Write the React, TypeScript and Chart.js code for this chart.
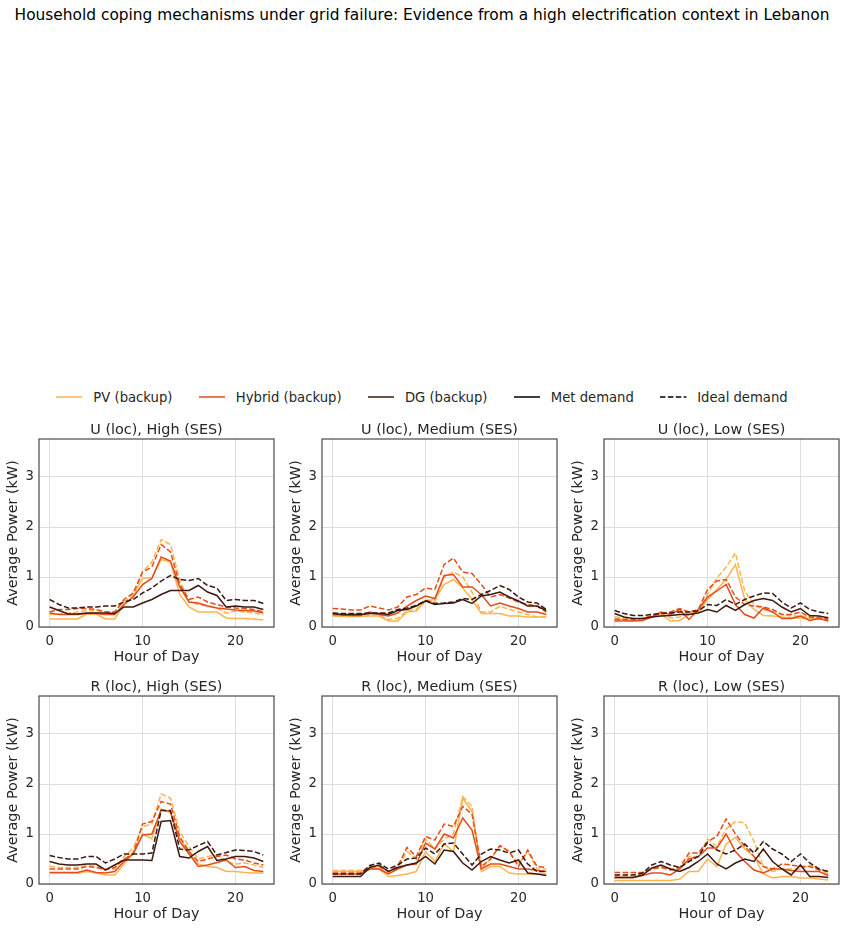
import React, { useEffect, useRef } from "react";
import { Chart, registerables } from "chart.js";

Chart.register(...registerables);

// Hours of the day (x values)
const hours = [0, 1, 2, 3, 4, 5, 6, 7, 8, 9, 10, 11, 12, 13, 14, 15, 16, 17, 18, 19, 20, 21, 22, 23];
const xTickValues = [0, 10, 20];
const yTickValues = [0, 1, 2, 3];

// U (loc), High (SES)
const uHighPvMet = [0.16, 0.16, 0.16, 0.16, 0.26, 0.26, 0.16, 0.16, 0.45, 0.62, 0.98, 0.98, 1.35, 1.3, 0.65, 0.4, 0.3, 0.3, 0.3, 0.18, 0.17, 0.17, 0.16, 0.14];
const uHighPvIdeal = [0.25, 0.26, 0.28, 0.3, 0.33, 0.33, 0.3, 0.3, 0.5, 0.65, 1.1, 1.3, 1.75, 1.65, 0.95, 0.5, 0.45, 0.42, 0.38, 0.28, 0.32, 0.3, 0.28, 0.24];
const uHighHybMet = [0.28, 0.25, 0.25, 0.25, 0.27, 0.27, 0.25, 0.25, 0.45, 0.6, 0.85, 0.97, 1.4, 1.32, 0.8, 0.5, 0.48, 0.42, 0.38, 0.36, 0.34, 0.33, 0.32, 0.28];
const uHighHybIdeal = [0.3, 0.35, 0.35, 0.37, 0.37, 0.35, 0.3, 0.3, 0.55, 0.68, 1.1, 1.2, 1.65, 1.5, 0.85, 0.55, 0.6, 0.5, 0.45, 0.4, 0.38, 0.37, 0.35, 0.3];
const uHighDgMet = [0.4, 0.33, 0.26, 0.26, 0.28, 0.28, 0.28, 0.27, 0.4, 0.4, 0.48, 0.55, 0.65, 0.73, 0.73, 0.73, 0.83, 0.7, 0.63, 0.4, 0.42, 0.4, 0.4, 0.35];
const uHighDgIdeal = [0.55, 0.45, 0.38, 0.38, 0.4, 0.4, 0.42, 0.42, 0.5, 0.55, 0.68, 0.78, 0.92, 1.03, 0.95, 0.93, 0.97, 0.83, 0.78, 0.53, 0.55, 0.53, 0.53, 0.47];

// U (loc), Medium (SES)
const uMedPvMet = [0.22, 0.21, 0.21, 0.21, 0.22, 0.22, 0.12, 0.12, 0.3, 0.32, 0.52, 0.55, 0.85, 0.95, 0.78, 0.55, 0.27, 0.27, 0.27, 0.22, 0.22, 0.2, 0.2, 0.2];
const uMedPvIdeal = [0.23, 0.22, 0.22, 0.22, 0.24, 0.24, 0.15, 0.17, 0.33, 0.35, 0.55, 0.5, 1.0, 1.1, 1.0, 0.7, 0.3, 0.3, 0.42, 0.35, 0.3, 0.25, 0.2, 0.2];
const uMedHybMet = [0.25, 0.24, 0.23, 0.23, 0.3, 0.25, 0.22, 0.28, 0.42, 0.53, 0.62, 0.57, 1.03, 1.05, 0.8, 0.8, 0.65, 0.42, 0.48, 0.42, 0.37, 0.3, 0.3, 0.25];
const uMedHybIdeal = [0.37, 0.36, 0.34, 0.34, 0.42, 0.38, 0.34, 0.4, 0.6, 0.65, 0.78, 0.75, 1.25, 1.38, 1.1, 1.07, 0.85, 0.6, 0.65, 0.58, 0.5, 0.45, 0.42, 0.3];
const uMedDgMet = [0.27, 0.25, 0.25, 0.25, 0.27, 0.27, 0.25, 0.33, 0.35, 0.42, 0.52, 0.45, 0.47, 0.48, 0.55, 0.47, 0.62, 0.65, 0.7, 0.6, 0.52, 0.42, 0.42, 0.33];
const uMedDgIdeal = [0.28, 0.27, 0.27, 0.27, 0.28, 0.28, 0.28, 0.35, 0.38, 0.43, 0.53, 0.47, 0.48, 0.5, 0.57, 0.55, 0.65, 0.73, 0.83, 0.75, 0.6, 0.5, 0.48, 0.35];

// U (loc), Low (SES)
const uLowPvMet = [0.17, 0.15, 0.13, 0.14, 0.2, 0.25, 0.12, 0.13, 0.25, 0.3, 0.55, 0.75, 0.95, 1.25, 0.55, 0.35, 0.23, 0.22, 0.2, 0.18, 0.18, 0.17, 0.16, 0.15];
const uLowPvIdeal = [0.2, 0.18, 0.16, 0.17, 0.23, 0.28, 0.18, 0.2, 0.28, 0.32, 0.65, 0.98, 1.2, 1.48, 0.72, 0.45, 0.35, 0.3, 0.25, 0.22, 0.22, 0.2, 0.2, 0.2];
const uLowHybMet = [0.12, 0.12, 0.12, 0.13, 0.2, 0.3, 0.25, 0.35, 0.15, 0.35, 0.6, 0.72, 0.85, 0.45, 0.25, 0.18, 0.38, 0.3, 0.17, 0.17, 0.22, 0.13, 0.17, 0.12];
const uLowHybIdeal = [0.15, 0.15, 0.15, 0.17, 0.22, 0.28, 0.3, 0.37, 0.3, 0.35, 0.75, 0.92, 0.95, 0.6, 0.45, 0.42, 0.4, 0.35, 0.25, 0.25, 0.3, 0.2, 0.18, 0.15];
const uLowDgMet = [0.27, 0.2, 0.17, 0.17, 0.2, 0.22, 0.23, 0.25, 0.25, 0.28, 0.35, 0.3, 0.43, 0.33, 0.45, 0.53, 0.57, 0.53, 0.4, 0.3, 0.37, 0.23, 0.22, 0.18];
const uLowDgIdeal = [0.33, 0.27, 0.23, 0.23, 0.25, 0.27, 0.28, 0.3, 0.3, 0.32, 0.45, 0.43, 0.55, 0.45, 0.55, 0.62, 0.68, 0.67, 0.5, 0.38, 0.48, 0.35, 0.3, 0.27];

// R (loc), High (SES)
const rHighPvMet = [0.22, 0.22, 0.22, 0.22, 0.25, 0.22, 0.18, 0.18, 0.4, 0.65, 1.0, 0.9, 1.5, 1.43, 0.9, 0.62, 0.4, 0.35, 0.33, 0.25, 0.25, 0.23, 0.22, 0.22];
const rHighPvIdeal = [0.35, 0.33, 0.33, 0.33, 0.37, 0.35, 0.3, 0.3, 0.55, 0.72, 1.15, 1.2, 1.8, 1.72, 1.05, 0.75, 0.5, 0.55, 0.58, 0.45, 0.4, 0.42, 0.38, 0.33];
const rHighHybMet = [0.23, 0.23, 0.23, 0.23, 0.28, 0.23, 0.22, 0.25, 0.45, 0.6, 0.98, 1.0, 1.48, 1.45, 0.85, 0.6, 0.35, 0.38, 0.43, 0.48, 0.33, 0.35, 0.27, 0.25];
const rHighHybIdeal = [0.3, 0.3, 0.3, 0.3, 0.35, 0.33, 0.28, 0.33, 0.5, 0.6, 1.2, 1.25, 1.65, 1.6, 0.95, 0.65, 0.45, 0.5, 0.55, 0.58, 0.5, 0.48, 0.42, 0.38];
const rHighDgMet = [0.45, 0.4, 0.38, 0.38, 0.4, 0.4, 0.28, 0.38, 0.48, 0.48, 0.48, 0.47, 1.25, 1.27, 0.55, 0.52, 0.65, 0.75, 0.47, 0.5, 0.55, 0.55, 0.52, 0.45];
const rHighDgIdeal = [0.57, 0.53, 0.5, 0.5, 0.55, 0.55, 0.42, 0.5, 0.6, 0.6, 0.6, 0.62, 1.47, 1.47, 0.7, 0.68, 0.77, 0.85, 0.58, 0.63, 0.68, 0.67, 0.65, 0.58];

// R (loc), Medium (SES)
const rMedPvMet = [0.25, 0.25, 0.25, 0.25, 0.3, 0.3, 0.15, 0.17, 0.2, 0.25, 0.65, 0.45, 0.8, 0.65, 1.72, 1.45, 0.25, 0.35, 0.35, 0.22, 0.2, 0.2, 0.2, 0.2];
const rMedPvIdeal = [0.27, 0.27, 0.27, 0.27, 0.32, 0.33, 0.22, 0.3, 0.65, 0.5, 0.9, 0.7, 0.9, 1.0, 1.75, 1.55, 0.3, 0.5, 0.75, 0.65, 0.4, 0.65, 0.3, 0.3];
const rMedHybMet = [0.2, 0.2, 0.2, 0.2, 0.3, 0.3, 0.2, 0.3, 0.38, 0.4, 0.82, 0.7, 1.0, 0.92, 1.32, 1.08, 0.3, 0.4, 0.4, 0.35, 0.3, 0.3, 0.27, 0.25];
const rMedHybIdeal = [0.22, 0.22, 0.22, 0.22, 0.35, 0.35, 0.25, 0.35, 0.73, 0.55, 0.95, 0.88, 1.2, 1.15, 1.55, 1.4, 0.35, 0.5, 0.77, 0.65, 0.35, 0.68, 0.35, 0.33];
const rMedDgMet = [0.15, 0.15, 0.15, 0.15, 0.33, 0.38, 0.25, 0.33, 0.38, 0.42, 0.55, 0.4, 0.68, 0.65, 0.42, 0.28, 0.45, 0.55, 0.48, 0.42, 0.48, 0.22, 0.2, 0.17];
const rMedDgIdeal = [0.2, 0.2, 0.2, 0.2, 0.37, 0.42, 0.3, 0.38, 0.5, 0.52, 0.72, 0.6, 0.8, 0.82, 0.6, 0.38, 0.6, 0.7, 0.68, 0.62, 0.68, 0.4, 0.25, 0.25];

// R (loc), Low (SES)
const rLowPvMet = [0.07, 0.07, 0.07, 0.07, 0.07, 0.07, 0.07, 0.1, 0.25, 0.25, 0.5, 0.35, 0.8, 0.93, 0.7, 0.55, 0.2, 0.12, 0.15, 0.15, 0.12, 0.12, 0.1, 0.08];
const rLowPvIdeal = [0.17, 0.17, 0.17, 0.2, 0.3, 0.35, 0.3, 0.3, 0.55, 0.55, 0.9, 0.75, 1.1, 1.25, 1.22, 0.85, 0.35, 0.25, 0.3, 0.3, 0.3, 0.38, 0.3, 0.2];
const rLowHybMet = [0.13, 0.13, 0.13, 0.17, 0.22, 0.22, 0.18, 0.3, 0.5, 0.55, 0.72, 0.72, 1.0, 0.65, 0.45, 0.28, 0.22, 0.3, 0.3, 0.27, 0.25, 0.25, 0.25, 0.17];
const rLowHybIdeal = [0.23, 0.23, 0.23, 0.23, 0.3, 0.33, 0.28, 0.33, 0.62, 0.62, 0.85, 0.95, 1.3, 1.0, 0.75, 0.55, 0.35, 0.3, 0.4, 0.38, 0.35, 0.35, 0.28, 0.25];
const rLowDgMet = [0.13, 0.13, 0.13, 0.18, 0.32, 0.38, 0.3, 0.25, 0.33, 0.45, 0.6, 0.4, 0.3, 0.42, 0.5, 0.45, 0.7, 0.45, 0.3, 0.18, 0.38, 0.15, 0.15, 0.13];
const rLowDgIdeal = [0.18, 0.18, 0.18, 0.22, 0.38, 0.45, 0.38, 0.33, 0.45, 0.55, 0.83, 0.68, 0.6, 0.68, 0.8, 0.62, 0.85, 0.7, 0.6, 0.45, 0.6, 0.42, 0.3, 0.25];

const figureTitle =
  "Household coping mechanisms under grid failure: Evidence from a high electrification context in Lebanon";
const xAxisTitle = "Hour of Day";
const yAxisTitle = "Average Power (kW)";
const legendLabels = ["PV (backup)", "Hybrid (backup)", "DG (backup)", "Met demand", "Ideal demand"];

// Styling
const FONT = "'DejaVu Sans', sans-serif";
const TEXT = "#262626";
const PV_COLOR = "#fdb44e";
const HYB_COLOR = "#e34d1c";
const DG_COLOR = "#3c1911";
const DASH = [5.5, 2.4];
const LINE_W = 1.5;

// Plot area geometry
const PLOT_W = 235;
const PLOT_H = 188;
const Y_AXIS_W = 39;
const X_AXIS_H = 40;
const TITLE_H = 19;
const RIGHT_PAD = 4;
const colLefts = [39, 321.5, 603.5];
const rowTops = [439, 696];

type Panel = {
  title: string;
  col: number;
  row: number;
  pv: [number[], number[]];
  hyb: [number[], number[]];
  dg: [number[], number[]];
};

const panels: Panel[] = [
  { title: "U (loc), High (SES)", col: 0, row: 0, pv: [uHighPvMet, uHighPvIdeal], hyb: [uHighHybMet, uHighHybIdeal], dg: [uHighDgMet, uHighDgIdeal] },
  { title: "U (loc), Medium (SES)", col: 1, row: 0, pv: [uMedPvMet, uMedPvIdeal], hyb: [uMedHybMet, uMedHybIdeal], dg: [uMedDgMet, uMedDgIdeal] },
  { title: "U (loc), Low (SES)", col: 2, row: 0, pv: [uLowPvMet, uLowPvIdeal], hyb: [uLowHybMet, uLowHybIdeal], dg: [uLowDgMet, uLowDgIdeal] },
  { title: "R (loc), High (SES)", col: 0, row: 1, pv: [rHighPvMet, rHighPvIdeal], hyb: [rHighHybMet, rHighHybIdeal], dg: [rHighDgMet, rHighDgIdeal] },
  { title: "R (loc), Medium (SES)", col: 1, row: 1, pv: [rMedPvMet, rMedPvIdeal], hyb: [rMedHybMet, rMedHybIdeal], dg: [rMedDgMet, rMedDgIdeal] },
  { title: "R (loc), Low (SES)", col: 2, row: 1, pv: [rLowPvMet, rLowPvIdeal], hyb: [rLowHybMet, rLowHybIdeal], dg: [rLowDgMet, rLowDgIdeal] },
];

// Dark frame around each axes box
const framePlugin = {
  id: "frame",
  afterDraw(chart: any) {
    const { ctx, chartArea } = chart;
    const { left, top, right, bottom } = chartArea;
    ctx.save();
    ctx.strokeStyle = "#505050";
    ctx.lineWidth = 1.25;
    ctx.strokeRect(left, top, right - left, bottom - top);
    ctx.restore();
  },
};

function series(values: number[], color: string, dashed: boolean) {
  return {
    data: hours.map((h, i) => ({ x: h, y: values[i] })),
    borderColor: color,
    backgroundColor: color,
    borderWidth: LINE_W,
    borderDash: dashed ? DASH : [],
    pointRadius: 0,
    fill: false,
    tension: 0,
  };
}

function PanelChart({ panel }: { panel: Panel }) {
  const ref = useRef<HTMLCanvasElement | null>(null);
  useEffect(() => {
    if (!ref.current) return;
    const datasets = [
      series(panel.dg[1], DG_COLOR, true),
      series(panel.dg[0], DG_COLOR, false),
      series(panel.hyb[1], HYB_COLOR, true),
      series(panel.hyb[0], HYB_COLOR, false),
      series(panel.pv[1], PV_COLOR, true),
      series(panel.pv[0], PV_COLOR, false),
    ];
    const chart = new Chart(ref.current, {
      type: "line",
      data: { datasets },
      plugins: [framePlugin],
      options: {
        animation: false,
        responsive: false,
        devicePixelRatio: 1,
        layout: { padding: { left: 0, right: RIGHT_PAD, top: 0, bottom: 0 } },
        plugins: {
          legend: { display: false },
          tooltip: { enabled: false },
          title: {
            display: true,
            fullSize: false,
            text: panel.title,
            color: TEXT,
            font: { family: FONT, size: 14.4, weight: "normal", lineHeight: 1.25 },
            padding: { top: 1, bottom: 0 },
          },
        },
        scales: {
          x: {
            type: "linear",
            min: -1.15,
            max: 24.15,
            afterBuildTicks: (s: any) => {
              s.ticks = xTickValues.map((v) => ({ value: v }));
            },
            afterFit: (s: any) => {
              s.height = X_AXIS_H;
            },
            grid: { color: "#dedede", lineWidth: 1, drawTicks: false },
            border: { display: false },
            ticks: { padding: 7, color: TEXT, font: { family: FONT, size: 13.2 }, maxRotation: 0 },
            title: {
              display: true,
              text: xAxisTitle,
              color: TEXT,
              font: { family: FONT, size: 14.4 },
              padding: { top: 0, bottom: 1.5 },
            },
          },
          y: {
            type: "linear",
            min: 0,
            max: 3.76,
            afterBuildTicks: (s: any) => {
              s.ticks = yTickValues.map((v) => ({ value: v }));
            },
            afterFit: (s: any) => {
              s.width = Y_AXIS_W;
            },
            grid: { color: "#dedede", lineWidth: 1, drawTicks: false },
            border: { display: false },
            ticks: { padding: 5, color: TEXT, font: { family: FONT, size: 13.2 } },
            title: {
              display: true,
              text: yAxisTitle,
              color: TEXT,
              font: { family: FONT, size: 14.4 },
              padding: { top: 4.5, bottom: 0 },
            },
          },
        },
      } as any,
    });
    return () => chart.destroy();
  }, [panel]);

  const left = colLefts[panel.col] - Y_AXIS_W;
  const top = rowTops[panel.row] - TITLE_H;
  const width = Y_AXIS_W + PLOT_W + RIGHT_PAD;
  const height = TITLE_H + PLOT_H + X_AXIS_H;
  return (
    <canvas
      ref={ref}
      width={width}
      height={height}
      style={{ position: "absolute", left, top, width, height }}
    />
  );
}

const legendStyles = [
  { color: PV_COLOR, dashed: false },
  { color: HYB_COLOR, dashed: false },
  { color: DG_COLOR, dashed: false },
  { color: "#000000", dashed: false },
  { color: "#000000", dashed: true },
];

function Legend() {
  return (
    <div
      style={{
        position: "absolute",
        left: 0,
        top: 387,
        width: 844,
        height: 20,
        display: "flex",
        justifyContent: "center",
        alignItems: "center",
        fontFamily: FONT,
        fontSize: 13.2,
        color: TEXT,
      }}
    >
      {legendLabels.map((label, i) => (
        <div
          key={label}
          style={{ display: "flex", alignItems: "center", marginLeft: i === 0 ? 0 : 26.4 }}
        >
          <svg width={26.4} height={10} style={{ display: "block" }}>
            <line
              x1={0}
              y1={5}
              x2={26.4}
              y2={5}
              stroke={legendStyles[i].color}
              strokeWidth={LINE_W}
              strokeDasharray={legendStyles[i].dashed ? DASH.join(" ") : undefined}
            />
          </svg>
          <span style={{ marginLeft: 10.6, whiteSpace: "nowrap" }}>{label}</span>
        </div>
      ))}
    </div>
  );
}

export default function App() {
  return (
    <div
      style={{
        position: "absolute",
        left: 0,
        top: 0,
        width: 844,
        height: 928,
        background: "#ffffff",
        overflow: "hidden",
      }}
    >
      <div
        style={{
          position: "absolute",
          left: 0,
          top: 4,
          width: 844,
          textAlign: "center",
          fontFamily: "'DejaVu Sans', sans-serif",
          fontSize: 15.4,
          lineHeight: "22px",
          color: "#000000",
          whiteSpace: "nowrap",
        }}
      >
        {figureTitle}
      </div>
      <Legend />
      {panels.map((p) => (
        <PanelChart key={p.title} panel={p} />
      ))}
    </div>
  );
}
